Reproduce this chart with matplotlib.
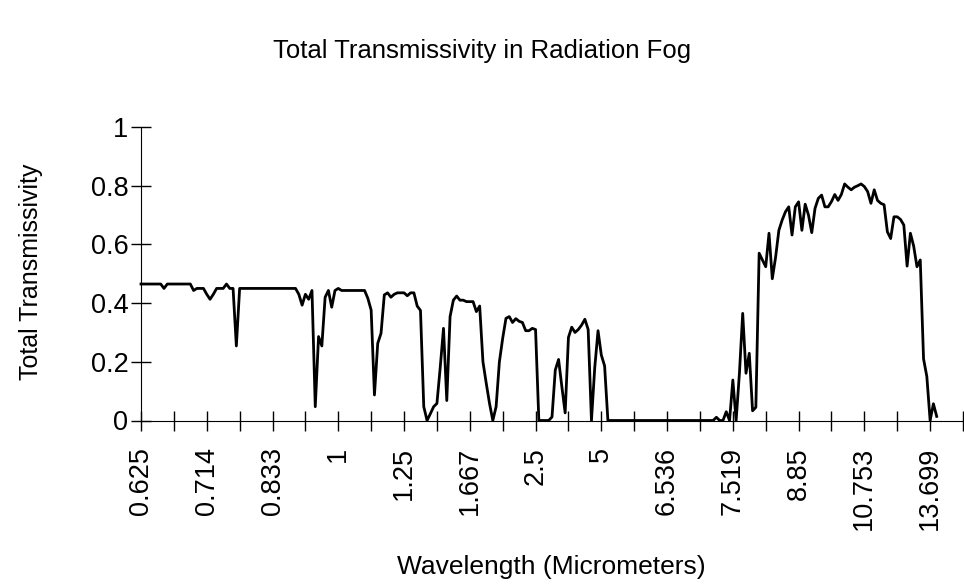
import matplotlib.pyplot as plt

plt.rcParams['font.family'] = ['Liberation Sans', 'DejaVu Sans']

# category labels on the x axis (one every 20 samples)
wavelength_labels = ['0.625', '0.714', '0.833', '1', '1.25', '1.667', '2.5', '5',
                     '6.536', '7.519', '8.85', '10.753', '13.699']

# total transmissivity, one value per wavelength sample
transmissivity = [
    0.465, 0.465, 0.465, 0.465, 0.465, 0.465, 0.465, 0.45, 0.465, 0.465,
    0.465, 0.465, 0.465, 0.465, 0.465, 0.465, 0.443, 0.45, 0.45, 0.45,
    0.43, 0.413, 0.43, 0.45, 0.45, 0.45, 0.465, 0.45, 0.45, 0.254,
    0.45, 0.45, 0.45, 0.45, 0.45, 0.45, 0.45, 0.45, 0.45, 0.45,
    0.45, 0.45, 0.45, 0.45, 0.45, 0.45, 0.45, 0.45, 0.43, 0.393,
    0.43, 0.413, 0.443, 0.047, 0.286, 0.254, 0.42, 0.443, 0.386, 0.443,
    0.45, 0.443, 0.443, 0.443, 0.443, 0.443, 0.443, 0.443, 0.443, 0.416,
    0.376, 0.087, 0.263, 0.297, 0.428, 0.435, 0.42, 0.43, 0.435, 0.435,
    0.435, 0.425, 0.435, 0.435, 0.39, 0.375, 0.047, 0.0, 0.023, 0.047,
    0.058, 0.18, 0.314, 0.068, 0.354, 0.41, 0.424, 0.41, 0.41, 0.405,
    0.405, 0.405, 0.371, 0.39, 0.2, 0.127, 0.058, 0.0, 0.047, 0.2,
    0.28, 0.348, 0.354, 0.334, 0.347, 0.338, 0.334, 0.306, 0.306, 0.314,
    0.31, 0.0, 0.0, 0.0, 0.0, 0.012, 0.172, 0.208, 0.115, 0.026,
    0.283, 0.318, 0.30, 0.31, 0.325, 0.345, 0.31, 0.0, 0.18, 0.306,
    0.223, 0.186, 0.0, 0.0, 0.0, 0.0, 0.0, 0.0, 0.0, 0.0,
    0.0, 0.0, 0.0, 0.0, 0.0, 0.0, 0.0, 0.0, 0.0, 0.0,
    0.0, 0.0, 0.0, 0.0, 0.0, 0.0, 0.0, 0.0, 0.0, 0.0,
    0.0, 0.0, 0.0, 0.0, 0.0, 0.011, 0.0, 0.0, 0.03, 0.0,
    0.138, 0.0, 0.161, 0.365, 0.161, 0.229, 0.033, 0.045, 0.57, 0.547,
    0.524, 0.638, 0.483, 0.556, 0.648, 0.683, 0.711, 0.728, 0.632, 0.728,
    0.745, 0.648, 0.737, 0.70, 0.64, 0.723, 0.757, 0.768, 0.728, 0.728,
    0.746, 0.77, 0.75, 0.77, 0.806, 0.795, 0.786, 0.795, 0.80, 0.806,
    0.797, 0.78, 0.74, 0.786, 0.75, 0.74, 0.735, 0.643, 0.62, 0.694,
    0.694, 0.685, 0.666, 0.526, 0.638, 0.594, 0.524, 0.547, 0.21, 0.15,
    0.0, 0.057, 0.014,
]

y_ticks = [0, 0.2, 0.4, 0.6, 0.8, 1]
y_tick_labels = ['0', '0.2', '0.4', '0.6', '0.8', '1']

fig = plt.figure(figsize=(9.64, 5.88), dpi=100)
ax = fig.add_axes([141 / 964, 1 - 420.5 / 588, 822 / 964, 293.5 / 588])

ax.plot(range(len(transmissivity)), transmissivity, color='black', lw=2,
        clip_on=False, zorder=5)

ax.set_xlim(0, 250)
ax.set_ylim(0, 1)

# tick mark every 10 samples, label every 20
x_ticks = list(range(0, 251, 10))
x_tick_labels = []
for i, t in enumerate(x_ticks):
    if i % 2 == 0 and i // 2 < len(wavelength_labels):
        x_tick_labels.append(wavelength_labels[i // 2])
    else:
        x_tick_labels.append('')
ax.set_xticks(x_ticks)
ax.set_xticklabels(x_tick_labels, rotation=90)
ax.set_yticks(y_ticks)
ax.set_yticklabels(y_tick_labels)

ax.spines['top'].set_visible(False)
ax.spines['right'].set_visible(False)
ax.tick_params(direction='inout', length=14, width=1, labelsize=19.5, colors='black')
ax.tick_params(axis='x', pad=12)
ax.tick_params(axis='y', pad=2)

fig.text(0.5, 1 - 51 / 588, 'Total Transmissivity in Radiation Fog',
         ha='center', va='center', fontsize=18.5)
fig.text(31 / 964, 1 - 272 / 588, 'Total Transmissivity', rotation=90,
         ha='center', va='center', fontsize=18)
fig.text(551 / 964, 1 - 567 / 588, 'Wavelength (Micrometers)',
         ha='center', va='center', fontsize=19)

fig.savefig('out.png', dpi=100)
